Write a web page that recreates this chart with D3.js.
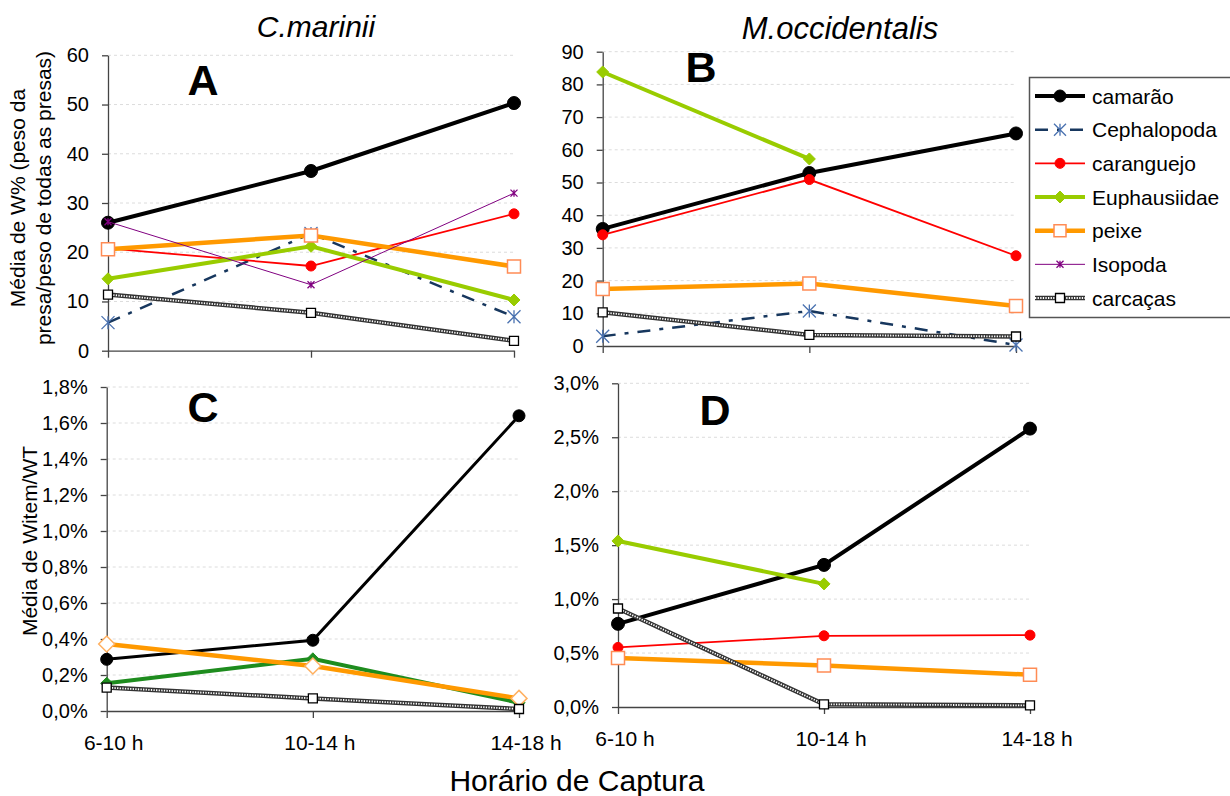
<!DOCTYPE html>
<html>
<head>
<meta charset="utf-8">
<script src="https://cdn.jsdelivr.net/npm/d3@7"></script>
<style>
  html, body { margin: 0; padding: 0; background: #fff; }
  svg { display: block; font-family: "Liberation Sans", Arial, Helvetica, sans-serif; }
</style>
</head>
<body>
<svg id="chart" width="1230" height="796"></svg>
<script>
// ---- categories, labels and tick values ----
const categories = ["6-10 h", "10-14 h", "14-18 h"];
const seriesNames = ["camarão", "Cephalopoda", "caranguejo", "Euphausiidae", "peixe", "Isopoda", "carcaças"];
const speciesTitles = ["C.marinii", "M.occidentalis"];
const panelLetters = ["A", "B", "C", "D"];
const xTitle = "Horário de Captura";
const yTitleTop = ["Média de W% (peso da", "presa/peso de todas as presas)"];
const yTitleBottom = "Média de Witem/WT";

const ticksA = [0, 10, 20, 30, 40, 50, 60];
const ticksB = [0, 10, 20, 30, 40, 50, 60, 70, 80, 90];
const ticksC = [0, 0.2, 0.4, 0.6, 0.8, 1.0, 1.2, 1.4, 1.6, 1.8];
const ticksD = [0, 0.5, 1.0, 1.5, 2.0, 2.5, 3.0];

// ---- A: C.marinii, mean W% ----
const camaraoA      = [26.0, 36.5, 50.3];
const cephalopodaA  = [5.7, 23.8, 6.9];
const caranguejoA   = [20.8, 17.2, 27.8];
const euphausiidaeA = [14.6, 21.2, 10.3];
const peixeA        = [20.6, 23.4, 17.1];
const isopodaA      = [26.2, 13.4, 32.0];
const carcacasA     = [11.4, 7.7, 2.0];

// ---- B: M.occidentalis, mean W% ----
const camaraoB      = [35.8, 52.9, 65.0];
const cephalopodaB  = [3.0, 10.7, 0.3];
const caranguejoB   = [34.0, 50.9, 27.6];
const euphausiidaeB = [83.8, 57.2, null];
const peixeB        = [17.4, 19.1, 12.2];
const carcacasB     = [10.3, 3.4, 2.9];

// ---- C: C.marinii, mean Witem/WT (%) ----
const camaraoC      = [0.287, 0.393, 1.64];
const euphausiidaeC = [0.154, 0.29, 0.046];
const peixeC        = [0.372, 0.25, 0.07];
const carcacasC     = [0.13, 0.07, 0.011];

// ---- D: M.occidentalis, mean Witem/WT (%) ----
const camaraoD      = [0.771, 1.317, 2.58];
const euphausiidaeD = [1.539, 1.141, null];
const caranguejoD   = [0.552, 0.66, 0.666];
const peixeD        = [0.453, 0.385, 0.299];
const carcacasD     = [0.913, 0.025, 0.015];

// ---- series appearance ----
const baseStyles = {
  "camarão":      { color: "#000000", width: 4,   marker: "circle",   size: 6.5, fill: "#000000", stroke: "#000000" },
  "Cephalopoda":  { color: "#17375E", width: 2.5, dash: "13,9,4,9", marker: "asterisk", size: 6.5, fill: "none", stroke: "#4A72B0", mw: 1.3 },
  "caranguejo":   { color: "#FF0000", width: 1.8, marker: "circle",   size: 5,   fill: "#FF0000", stroke: "#FF0000" },
  "Euphausiidae": { color: "#99CC00", width: 4,   marker: "diamond",  size: 6,   fill: "#99CC00", stroke: "#99CC00" },
  "peixe":        { color: "#FF9900", width: 4.5, marker: "square",   size: 6.5, fill: "#FFFFFF", stroke: "#FF8C55", mw: 1.5 },
  "Isopoda":      { color: "#800080", width: 1,   marker: "asterisk", size: 3.5, fill: "none", stroke: "#800080", mw: 1.3 },
  "carcaças":     { color: "#333333", width: 4.5, chain: true, marker: "square", size: 4.5, fill: "#FFFFFF", stroke: "#000000", mw: 1.3 }
};
const panelCStyles = {
  "camarão":      { width: 3, size: 6 },
  "Euphausiidae": { color: "#1E8C1E", fill: "#1E8C1E", stroke: "#1E8C1E", size: 6 },
  "peixe":        { marker: "diamond", size: 8, fill: "#FFFFFF", stroke: "#FFB060", mw: 1.5 }
};

const fmtInt = d => String(d);
const fmtPct = d => d3.format(".1f")(d).replace(".", ",") + "%";

const panels = [
  { letter: panelLetters[0], ticks: ticksA, max: 60,   fmt: fmtInt, x0: 108,   x1: 514,  yb: 350.7, yt: 55.3,
    letterX: 203, letterY: 95, styleOverrides: {},
    series: { "camarão": camaraoA, "Cephalopoda": cephalopodaA, "caranguejo": caranguejoA, "Euphausiidae": euphausiidaeA,
              "peixe": peixeA, "Isopoda": isopodaA, "carcaças": carcacasA } },
  { letter: panelLetters[1], ticks: ticksB, max: 90,   fmt: fmtInt, x0: 602.7, x1: 1016, yb: 346,   yt: 51.7,
    letterX: 701, letterY: 82, styleOverrides: {},
    series: { "camarão": camaraoB, "Cephalopoda": cephalopodaB, "caranguejo": caranguejoB, "Euphausiidae": euphausiidaeB,
              "peixe": peixeB, "carcaças": carcacasB } },
  { letter: panelLetters[2], ticks: ticksC, max: 1.8,  fmt: fmtPct, x0: 106.7, x1: 519,  yb: 711,   yt: 387,
    letterX: 203, letterY: 422, labelY: 750, styleOverrides: panelCStyles,
    series: { "camarão": camaraoC, "Euphausiidae": euphausiidaeC, "peixe": peixeC, "carcaças": carcacasC } },
  { letter: panelLetters[3], ticks: ticksD, max: 3.0,  fmt: fmtPct, x0: 618,   x1: 1030, yb: 707,   yt: 383.3,
    letterX: 715, letterY: 425, labelY: 746, styleOverrides: {},
    series: { "camarão": camaraoD, "caranguejo": caranguejoD, "Euphausiidae": euphausiidaeD,
              "peixe": peixeD, "carcaças": carcacasD } }
];

const svg = d3.select("#chart");
svg.append("rect").attr("width", 1230).attr("height", 796).attr("fill", "#fff");

function markerPath(type, s) {
  switch (type) {
    case "diamond":  return `M0,${-s}L${s},0L0,${s}L${-s},0Z`;
    case "square":   return `M${-s},${-s}H${s}V${s}H${-s}Z`;
    case "asterisk": return `M${-s},${-s}L${s},${s}M${-s},${s}L${s},${-s}M0,${-s}L0,${s}`;
    default:         return d3.symbol(d3.symbolCircle, Math.PI * s * s)();
  }
}

function drawMarker(g, st, cx, cy, s) {
  g.append("path")
    .attr("d", markerPath(st.marker, s != null ? s : st.size))
    .attr("transform", `translate(${cx},${cy})`)
    .attr("fill", st.marker === "asterisk" ? "none" : st.fill)
    .attr("stroke", st.stroke)
    .attr("stroke-width", st.mw || 1);
}

function drawSeriesPath(g, st, d) {
  if (st.chain) {
    // beaded "chain" line: dark core with small white links
    g.append("path").attr("d", d).attr("fill", "none")
      .attr("stroke", st.color).attr("stroke-width", st.width);
    g.append("path").attr("d", d).attr("fill", "none")
      .attr("stroke", "#ffffff").attr("stroke-width", 1.8).attr("stroke-dasharray", "1.3,1.3");
  } else {
    g.append("path").attr("d", d).attr("fill", "none")
      .attr("stroke", st.color).attr("stroke-width", st.width)
      .attr("stroke-dasharray", st.dash || null);
  }
}

function drawPanel(p) {
  const g = svg.append("g");
  const x = d3.scalePoint().domain(categories).range([p.x0, p.x1]);
  const y = d3.scaleLinear().domain([0, p.max]).range([p.yb, p.yt]);

  // light dashed gridlines
  g.append("g").selectAll("line").data(p.ticks.filter(t => t > 0)).join("line")
    .attr("x1", p.x0).attr("x2", p.x1)
    .attr("y1", d => y(d)).attr("y2", d => y(d))
    .attr("stroke", "#dcdcdc").attr("stroke-width", 1).attr("stroke-dasharray", "3,3");

  // y axis
  const yAxis = d3.axisLeft(y).tickValues(p.ticks).tickSize(6).tickSizeOuter(0).tickPadding(13).tickFormat(p.fmt);
  const yg = g.append("g").attr("transform", `translate(${p.x0},0)`).call(yAxis);
  yg.attr("font-family", null).attr("font-size", null);
  yg.selectAll("path, line").attr("stroke", "#444").attr("stroke-width", 1.3);
  yg.selectAll("text").attr("font-size", 20).attr("fill", "#000");

  // x axis
  const xAxis = d3.axisBottom(x).tickSize(7).tickSizeOuter(0).tickFormat("");
  const xg = g.append("g").attr("transform", `translate(0,${p.yb})`).call(xAxis);
  xg.selectAll("path, line").attr("stroke", "#444").attr("stroke-width", 1.3);

  if (p.labelY) {
    g.append("g").selectAll("text").data(categories).join("text")
      .attr("x", d => x(d) + 7).attr("y", p.labelY)
      .attr("text-anchor", "middle").attr("font-size", 21).attr("fill", "#000")
      .text(d => d);
  }

  // series, drawn in legend order
  const line = d3.line()
    .defined(d => d.v != null)
    .x(d => x(d.c)).y(d => y(d.v));

  seriesNames.forEach(name => {
    const vals = p.series[name];
    if (!vals) return;
    const st = Object.assign({}, baseStyles[name], p.styleOverrides[name] || {});
    const pts = vals.map((v, i) => ({ c: categories[i], v }));
    drawSeriesPath(g, st, line(pts));
    pts.filter(d => d.v != null).forEach(d => drawMarker(g, st, x(d.c), y(d.v)));
  });

  // panel letter
  g.append("text").attr("x", p.letterX).attr("y", p.letterY)
    .attr("text-anchor", "middle").attr("font-size", 43).attr("font-weight", "bold")
    .attr("fill", "#000").text(p.letter);
}

panels.forEach(drawPanel);

// species titles
svg.append("text").attr("x", 316).attr("y", 37).attr("text-anchor", "middle")
  .attr("font-size", 30).attr("font-style", "italic").text(speciesTitles[0]);
svg.append("text").attr("x", 840).attr("y", 39).attr("text-anchor", "middle")
  .attr("font-size", 31).attr("font-style", "italic").text(speciesTitles[1]);

// y axis titles
svg.append("text").attr("transform", "translate(25,198) rotate(-90)")
  .attr("text-anchor", "middle").attr("font-size", 21).text(yTitleTop[0]);
svg.append("text").attr("transform", "translate(51,198) rotate(-90)")
  .attr("text-anchor", "middle").attr("font-size", 21).text(yTitleTop[1]);
svg.append("text").attr("transform", "translate(37,541) rotate(-90)")
  .attr("text-anchor", "middle").attr("font-size", 21).text(yTitleBottom);

// x axis title
svg.append("text").attr("x", 577).attr("y", 791).attr("text-anchor", "middle")
  .attr("font-size", 30).text(xTitle);

// legend
const lg = svg.append("g");
lg.append("rect").attr("x", 1029.5).attr("y", 77.5).attr("width", 215).attr("height", 240)
  .attr("fill", "#fff").attr("stroke", "#555").attr("stroke-width", 1.5);
const legendY = d3.scalePoint().domain(seriesNames).range([96, 298]);
seriesNames.forEach(name => {
  const st = baseStyles[name];
  const cy = legendY(name);
  drawSeriesPath(lg, st, `M1035,${cy}H1085`);
  drawMarker(lg, st, 1060, cy, Math.min(st.size, 6));
  lg.append("text").attr("x", 1092).attr("y", cy + 7.5)
    .attr("font-size", 21).attr("fill", "#000").text(name);
});
</script>
</body>
</html>
